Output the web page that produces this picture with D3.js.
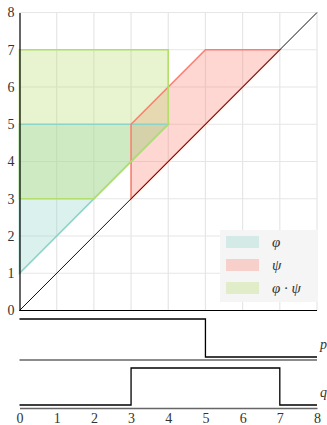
<!DOCTYPE html>
<html>
<head>
<meta charset="utf-8">
<script src="https://cdn.jsdelivr.net/npm/d3@7"></script>
<style>
  body { margin: 0; background: #fff; }
  svg text { font-family: "DejaVu Serif", "Liberation Serif", serif; }
</style>
</head>
<body>
<svg id="chart" width="327" height="425"></svg>
<script>
// data
const tickValues = [0, 1, 2, 3, 4, 5, 6, 7, 8];
const phiRegion = [[0, 1], [0, 5], [4, 5]];
const psiRegion = [[3, 3], [3, 5], [5, 7], [7, 7]];
const phiPsiRegion = [[0, 3], [0, 7], [4, 7], [4, 5], [2, 3]];
const diagonal = [[0, 0], [8, 8]];
const pSignal = [[0, 1], [5, 0], [8, 0]];
const qSignal = [[0, 0], [3, 1], [7, 0], [8, 0]];
const legendLabels = ["φ", "ψ", "φ · ψ"];
const fillColors = ["#8dd3c7", "#fb8072", "#b3de69"];

const serif = "'Liberation Serif', 'DejaVu Serif', serif";
const svg = d3.select("#chart");

const x = d3.scaleLinear().domain([0, 8]).range([19.5, 317]);
const y = d3.scaleLinear().domain([0, 8]).range([310.5, 12.5]);

// grid
const grid = svg.append("g");
grid.selectAll("line.v")
    .data(tickValues.slice(1))
    .join("line")
    .attr("x1", d => x(d)).attr("x2", d => x(d))
    .attr("y1", y(0)).attr("y2", y(8))
    .attr("stroke", "#e6e6e6").attr("stroke-width", 1.2);
grid.selectAll("line.h")
    .data(tickValues.slice(1))
    .join("line")
    .attr("class", "h")
    .attr("x1", x(0)).attr("x2", x(8))
    .attr("y1", d => y(d)).attr("y2", d => y(d))
    .attr("stroke", "#e6e6e6").attr("stroke-width", 1.2);

// regions: fills first, outlines on top
const line = d3.line().x(d => x(d[0])).y(d => y(d[1]));
const regions = [phiRegion, psiRegion, phiPsiRegion];
regions.forEach((r, i) => {
    svg.append("path")
        .attr("d", line(r) + "Z")
        .attr("fill", fillColors[i])
        .attr("fill-opacity", 0.32);
});
regions.forEach((r, i) => {
    svg.append("path")
        .attr("d", line(r) + "Z")
        .attr("fill", "none")
        .attr("stroke", fillColors[i])
        .attr("stroke-width", 1.6);
});

svg.append("path")
    .attr("d", line(diagonal))
    .attr("stroke", "#111").attr("stroke-width", 1).attr("fill", "none");

// axes of the main plot
const yAxis = svg.append("g")
    .attr("transform", `translate(${x(0)},0)`)
    .call(d3.axisLeft(y).tickValues(tickValues).tickSize(0).tickPadding(5).tickFormat(d3.format("d")));
yAxis.select(".domain").attr("stroke", "#000").attr("stroke-width", 1.2);
yAxis.selectAll("text")
    .style("font-family", serif).style("font-size", "14px").attr("fill", "#333");

svg.append("line")
    .attr("x1", x(0)).attr("x2", x(8))
    .attr("y1", y(0)).attr("y2", y(0))
    .attr("stroke", "#000").attr("stroke-width", 1.2);

// legend
const legend = svg.append("g").attr("transform", "translate(220,230)");
legend.append("rect")
    .attr("width", 98).attr("height", 72)
    .attr("fill", "#f5f5f5");
legendLabels.forEach((lab, i) => {
    legend.append("rect")
        .attr("x", 6).attr("y", 6 + i * 23)
        .attr("width", 33).attr("height", 12)
        .attr("fill", fillColors[i]).attr("fill-opacity", 0.32);
    legend.append("text")
        .attr("x", 52).attr("y", 17 + i * 23)
        .style("font-family", serif).style("font-size", "15px").style("font-style", "italic")
        .attr("fill", "#333")
        .text(lab);
});

// signal panels
const stepLine = (ys) => d3.line().curve(d3.curveStepAfter).x(d => x(d[0])).y(d => ys(d[1]));
const yP = d3.scaleLinear().domain([0, 1]).range([357, 319]);
const yQ = d3.scaleLinear().domain([0, 1]).range([405, 368]);

[[pSignal, yP, "p", 360], [qSignal, yQ, "q", 408]].forEach(([sig, ys, name, base]) => {
    svg.append("path")
        .attr("d", stepLine(ys)(sig))
        .attr("fill", "none").attr("stroke", "#000").attr("stroke-width", 1.3);
    svg.append("text")
        .attr("x", 320).attr("y", base - 11)
        .style("font-family", serif).style("font-size", "14px").style("font-style", "italic")
        .attr("fill", "#333")
        .text(name);
});

svg.append("line")
    .attr("x1", x(0)).attr("x2", x(8))
    .attr("y1", 360).attr("y2", 360)
    .attr("stroke", "#666").attr("stroke-width", 1.6);

const xAxis = svg.append("g")
    .attr("transform", "translate(0,408)")
    .call(d3.axisBottom(x).tickValues(tickValues).tickSize(0).tickSizeOuter(0).tickPadding(5).tickFormat(d3.format("d")));
xAxis.select(".domain").attr("stroke", "#666").attr("stroke-width", 1.6);
xAxis.selectAll("text")
    .style("font-family", serif).style("font-size", "14px").attr("fill", "#333");
</script>
</body>
</html>
